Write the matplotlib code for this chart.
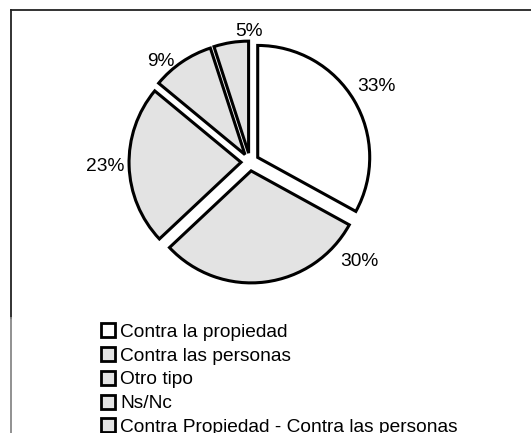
import matplotlib
matplotlib.use("Agg")
import matplotlib.pyplot as plt
from matplotlib.lines import Line2D
from matplotlib.patches import Patch

plt.rcParams['font.family'] = ['Liberation Sans', 'DejaVu Sans']

categories = ["Contra la propiedad", "Contra las personas", "Otro tipo",
              "Ns/Nc", "Contra Propiedad - Contra las personas"]
values = [33, 30, 23, 9, 5]
pct_labels = ["33%", "30%", "23%", "9%", "5%"]
colors = ["#ffffff", "#e3e3e3", "#e3e3e3", "#e3e3e3", "#e3e3e3"]

# label positions in pie radius units (placed like the original "best fit")
label_xy = [(1.125, 0.670), (0.973, -0.884), (-1.295, -0.036),
            (-0.795, 0.893), (-0.009, 1.161)]

W, H = 531, 433
fig = plt.figure(figsize=(W / 100, H / 100), dpi=100)
fig.patch.set_facecolor("white")

# pie axes: centre at (250, 162) px, radius 112 px
cx, cy, half = 250, 162, 150
ax = fig.add_axes([(cx - half) / W, (H - cy - half) / H, 2 * half / W, 2 * half / H])
lim = half / 112
wedges, texts = ax.pie(values, colors=colors, startangle=90, counterclock=False,
                       explode=[0.08] * len(values), labels=pct_labels,
                       wedgeprops=dict(edgecolor="black", linewidth=2.2))
for t, (x, y) in zip(texts, label_xy):
    t.set_position((x, y))
    t.set_ha("center")
    t.set_va("center")
    t.set_fontsize(13.8)
ax.set_xlim(-lim, lim)
ax.set_ylim(-lim, lim)
ax.set_aspect("equal")
ax.axis("off")

handles = [Patch(facecolor=c, edgecolor="black", linewidth=2) for c in colors]
fig.legend(handles, categories, loc="upper left",
           bbox_to_anchor=(101 / W, 1 - 323 / H), frameon=False,
           fontsize=13.8, handlelength=0.75, handleheight=0.75,
           handletextpad=0.25, labelspacing=0.32, borderpad=0, borderaxespad=0)

# chart frame (top and left edges visible in the crop)
fig.add_artist(Line2D([11 / W, 1], [1 - 9.5 / H, 1 - 9.5 / H], color="#222222", lw=1.3,
                      transform=fig.transFigure))
fig.add_artist(Line2D([11 / W, 11 / W], [1 - 9.5 / H, 1 - 318 / H], color="#222222", lw=1.3,
                      transform=fig.transFigure))
fig.add_artist(Line2D([11 / W, 11 / W], [1 - 318 / H, 0], color="#888888", lw=1.3,
                      transform=fig.transFigure))

fig.savefig("out.png", dpi=100)
